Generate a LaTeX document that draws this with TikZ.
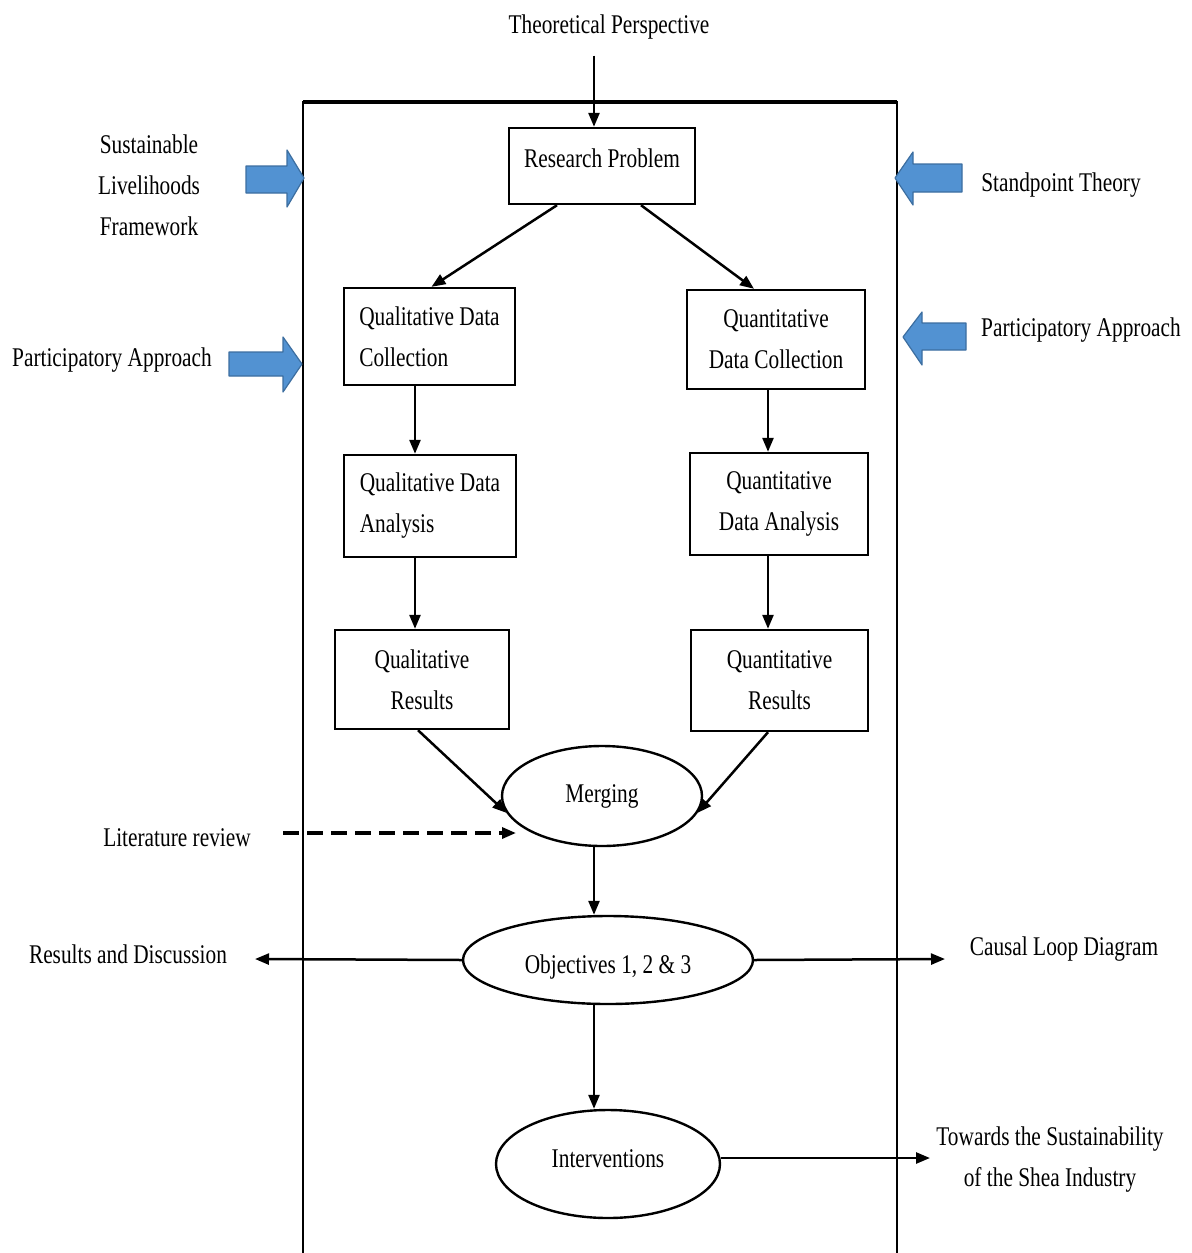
\documentclass[tikz,border=0pt]{standalone}
\usepackage{fontspec}
\setmainfont{Liberation Serif}[FakeStretch=0.79]
\usetikzlibrary{arrows.meta,shapes.geometric}
\definecolor{arrowfill}{RGB}{82,146,210}
\definecolor{arrowline}{RGB}{60,110,160}

\begin{document}
\begin{tikzpicture}[x=0.5pt,y=-0.5pt,
  every node/.style={font=\fontsize{13.5pt}{20.5pt}\selectfont, inner sep=0pt},
  box/.style={draw, line width=1.2pt, align=center},
  oval/.style={draw, ellipse, line width=1.2pt},
  arr/.style={line width=1.25pt, -{Triangle[length=7pt,width=5.5pt]}},
  dasharr/.style={line width=1.6pt, dash pattern=on 8pt off 4pt, -{Triangle[length=7pt,width=5.5pt]}},
  bluearrow/.style={fill=arrowfill, draw=arrowline, line width=0.6pt, line join=round}
]
\useasboundingbox (0,0) rectangle (1191,1253);
\fill[white] (0,0) rectangle (1191,1253);

% framing box around the mixed-methods process
\draw[line width=1pt] (303,1253) -- (303,102) -- (897,102) -- (897,1253);
\draw[line width=1.8pt] (303,102) -- (897,102);

% outside labels
\node (theo) at (609,27) {Theoretical Perspective};
\node[align=center] (slf) at (149,185) {Sustainable\\Livelihoods\\Framework};
\node (pal) at (112,360) {Participatory Approach};
\node (spt) at (1061,185) {Standpoint Theory};
\node (par) at (1081,330) {Participatory Approach};
\node (lit) at (177,838) {Literature review};
\node (res) at (128,954) {Results and Discussion};
\node (cld) at (1064,949) {Causal Loop Diagram};
\node[align=center] (tow) at (1050,1160) {Towards the Sustainability\\of the Shea Industry};

% process boxes
\node[box, minimum width=93pt, minimum height=38pt, text height=9.3pt, text depth=8pt] (rp) at (602,166) {Research Problem};
\node[box, align=left, minimum width=85.5pt, minimum height=48.5pt] (qc) at (429.5,336.5) {Qualitative Data\\Collection};
\node[box, minimum width=89pt, minimum height=49.5pt] (qnc) at (776,339.5) {Quantitative\\Data Collection};
\node[box, align=left, minimum width=86pt, minimum height=51pt] (qa) at (430,506) {Qualitative Data\\Analysis};
\node[box, minimum width=89pt, minimum height=51pt] (qna) at (779,504) {Quantitative\\Data Analysis};
\node[box, minimum width=87pt, minimum height=49.5pt] (qr) at (422,679.5) {Qualitative\\Results};
\node[box, minimum width=88.5pt, minimum height=50.5pt] (qnr) at (779.5,680.5) {Quantitative\\Results};

% ellipses
\node[oval, minimum width=100pt, minimum height=50pt] (mg) at (602,796) {Merging};
\node[oval, minimum width=145pt, minimum height=44pt, text height=16pt, text depth=3pt] (obj) at (608,960) {Objectives 1, 2 \& 3};
\node[oval, minimum width=112pt, minimum height=54pt, text height=9.3pt, text depth=6pt] (int) at (608,1164) {Interventions};

% free ends of the outgoing arrows
\coordinate (litend) at (516,833);
\coordinate (resend) at (255,959);
\coordinate (cldend) at (945,959);
\coordinate (towend) at (930,1158);

% connectors
\draw[arr] ([xshift=-7.5pt,yshift=-8pt]theo.south) -- ([xshift=-4pt]rp.north);
\draw[arr] ([xshift=-22.5pt]rp.south) -- ([xshift=1pt]qc.north);
\draw[arr] ([xshift=19.5pt]rp.south) -- ([xshift=-11pt]qnc.north);
\draw[arr] ([xshift=-7.25pt]qc.south) -- ([xshift=-7.5pt]qa.north);
\draw[arr] ([xshift=-7.5pt]qa.south) -- ([xshift=-3.5pt]qr.north);
\draw[arr] ([xshift=-4pt]qnc.south) -- ([xshift=-5.5pt]qna.north);
\draw[arr] ([xshift=-5.5pt]qna.south) -- ([xshift=-5.75pt]qnr.north);
\draw[arr] ([xshift=-2pt]qr.south) -- (mg.190);
\draw[arr] ([xshift=-5.75pt]qnr.south) -- (mg.-10);
\draw[dasharr] ([xshift=16pt,yshift=2.5pt]lit.east) -- (litend);
\draw[arr] ([xshift=-4pt]mg.south) -- ([xshift=-7pt]obj.north);
\draw[arr] (obj.west) -- (resend);
\draw[arr] (obj.east) -- (cldend);
\draw[arr] ([xshift=-7pt]obj.south) -- ([xshift=-7pt]int.north);
\draw[arr] ([yshift=3pt]int.east) -- (towend);

% block arrows from the frameworks
\draw[bluearrow] (246,166) -- (287,166) -- (287,150) -- (304,178) -- (287,207) -- (287,193) -- (246,193) -- cycle;
\draw[bluearrow] (229,352) -- (283,352) -- (283,337) -- (302,364) -- (283,392) -- (283,376) -- (229,376) -- cycle;
\draw[bluearrow] (903,337) -- (922,312) -- (922,323) -- (966,323) -- (966,350) -- (922,350) -- (922,365) -- cycle;
\draw[bluearrow] (895,178) -- (913,152) -- (913,164) -- (962,164) -- (962,192) -- (913,192) -- (913,205) -- cycle;
\end{tikzpicture}
\end{document}
